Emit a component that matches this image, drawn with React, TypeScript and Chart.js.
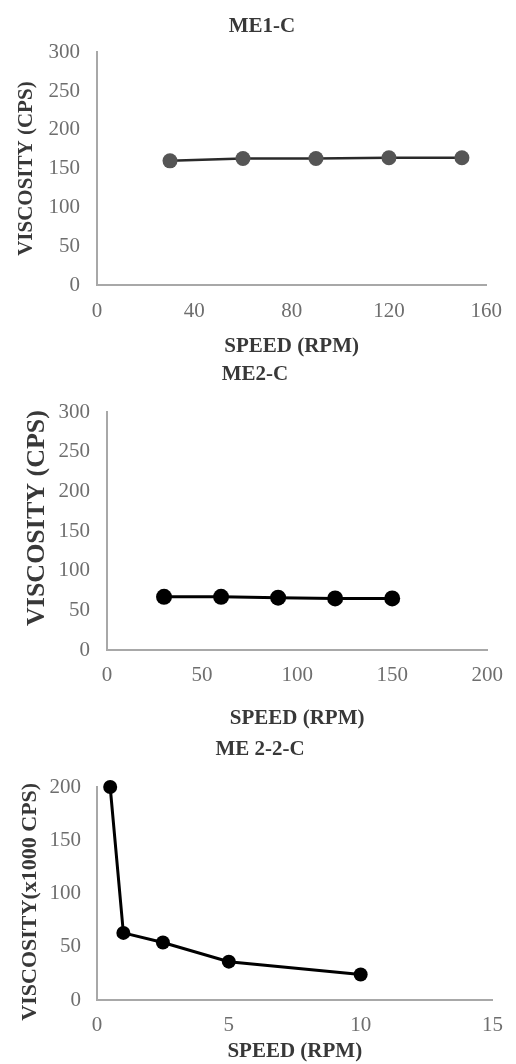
import React, { useEffect, useRef } from "react";
import { Chart, registerables } from "chart.js";

Chart.register(...registerables);

// ---- data ----
const SPEED_1 = [30, 60, 90, 120, 150];
const VISC_1 = [160, 163, 163, 164, 164];

const SPEED_2 = [30, 60, 90, 120, 150];
const VISC_2 = [67, 67, 66, 65, 65];

const SPEED_3 = [0.5, 1, 2.5, 5, 10];
const VISC_3 = [200, 63, 54, 36, 24];

const TITLES = ["ME1-C", "ME2-C", "ME 2-2-C"];
const X_TITLE = "SPEED (RPM)";
const Y_TITLES = ["VISCOSITY (CPS)", "    VISCOSITY (CPS)", "VISCOSITY(x1000 CPS)   "];

const X_RANGES = [
  { min: 0, max: 160, step: 40 },
  { min: 0, max: 200, step: 50 },
  { min: 0, max: 15, step: 5 },
];
const Y_RANGES = [
  { min: 0, max: 300, step: 50 },
  { min: 0, max: 300, step: 50 },
  { min: 0, max: 200, step: 50 },
];

const SERIF = "'Liberation Serif', 'Times New Roman', serif";
const TEXT_DARK = "#383838";
const TICK_COLOR = "#6e6e6e";
const AXIS_COLOR = "#a8a8a8";

type Panel = {
  top: number;
  height: number;
  xs: number[];
  ys: number[];
  title: string;
  yTitle: string;
  xRange: { min: number; max: number; step: number };
  yRange: { min: number; max: number; step: number };
  titlePad: { top: number; bottom: number };
  leftPad: number;
  yWidth: number;
  yTickPad: number;
  yTitleSize: number;
  yTitlePad: number;
  xHeight: number;
  xTickPad: number;
  xTitlePad: number;
  rightPad: number;
  pointColor: string;
  lineColor: string;
  radius: number;
  lineWidth: number;
};

const PANELS: Panel[] = [
  {
    top: 0, height: 362, xs: SPEED_1, ys: VISC_1, title: TITLES[0], yTitle: Y_TITLES[0],
    xRange: X_RANGES[0], yRange: Y_RANGES[0],
    titlePad: { top: 14, bottom: 13 },
    leftPad: 27, yWidth: 70, yTickPad: 17, yTitleSize: 21, yTitlePad: -12.6,
    xHeight: 77, xTickPad: 14, xTitlePad: 2.4, rightPad: 19,
    pointColor: "#555555", lineColor: "#2a2a2a", radius: 7.5, lineWidth: 2.5,
  },
  {
    top: 362, height: 370, xs: SPEED_2, ys: VISC_2, title: TITLES[1], yTitle: Y_TITLES[1],
    xRange: X_RANGES[1], yRange: Y_RANGES[1],
    titlePad: { top: 0.4, bottom: 24.4 },
    leftPad: 13, yWidth: 94, yTickPad: 17, yTitleSize: 26, yTitlePad: 8.4,
    xHeight: 82, xTickPad: 13, xTitlePad: 0.4, rightPad: 19,
    pointColor: "#000000", lineColor: "#000000", radius: 8, lineWidth: 3,
  },
  {
    top: 732, height: 332, xs: SPEED_3, ys: VISC_3, title: TITLES[2], yTitle: Y_TITLES[2],
    xRange: X_RANGES[2], yRange: Y_RANGES[2],
    titlePad: { top: 5.4, bottom: 24.4 },
    leftPad: 20, yWidth: 77, yTickPad: 16, yTitleSize: 22, yTitlePad: -3.2,
    xHeight: 64, xTickPad: 13, xTitlePad: 0, rightPad: 16,
    pointColor: "#000000", lineColor: "#000000", radius: 7, lineWidth: 3,
  },
];

function ChartPanel({ p }: { p: Panel }) {
  const ref = useRef<HTMLCanvasElement | null>(null);

  useEffect(() => {
    if (!ref.current) return;
    const chart = new Chart(ref.current, {
      type: "line",
      data: {
        datasets: [
          {
            data: p.xs.map((x, i) => ({ x, y: p.ys[i] })),
            borderColor: p.lineColor,
            borderWidth: p.lineWidth,
            backgroundColor: p.pointColor,
            pointBackgroundColor: p.pointColor,
            pointBorderColor: p.pointColor,
            pointBorderWidth: 0,
            pointRadius: p.radius,
            tension: 0,
            fill: false,
            clip: false as any,
          },
        ],
      },
      options: {
        animation: false,
        responsive: false,
        events: [],
        layout: { padding: { left: p.leftPad, right: p.rightPad, top: 0, bottom: 0 } },
        plugins: {
          legend: { display: false },
          tooltip: { enabled: false },
          title: {
            display: true,
            text: p.title,
            color: TEXT_DARK,
            font: { family: SERIF, size: 21, weight: "bold", lineHeight: 1.2 },
            padding: p.titlePad,
          },
        },
        scales: {
          x: {
            type: "linear",
            min: p.xRange.min,
            max: p.xRange.max,
            grid: { display: false, drawTicks: false },
            border: { display: true, color: AXIS_COLOR, width: 2 },
            ticks: {
              stepSize: p.xRange.step,
              padding: p.xTickPad,
              color: TICK_COLOR,
              font: { family: SERIF, size: 21, lineHeight: 1.2 },
              maxRotation: 0,
              autoSkip: false,
            },
            title: {
              display: true,
              text: X_TITLE,
              color: TEXT_DARK,
              font: { family: SERIF, size: 21, weight: "bold", lineHeight: 1.2 },
              padding: { top: 0, bottom: p.xTitlePad },
            },
            afterFit: (s: any) => {
              s.height = p.xHeight;
            },
          },
          y: {
            type: "linear",
            min: p.yRange.min,
            max: p.yRange.max,
            grid: { display: false, drawTicks: false },
            border: { display: true, color: AXIS_COLOR, width: 2 },
            ticks: {
              stepSize: p.yRange.step,
              padding: p.yTickPad,
              color: TICK_COLOR,
              font: { family: SERIF, size: 21, lineHeight: 1.2 },
              autoSkip: false,
            },
            title: {
              display: true,
              text: p.yTitle,
              color: TEXT_DARK,
              font: { family: SERIF, size: p.yTitleSize, weight: "bold", lineHeight: 1.2 },
              padding: { top: p.yTitlePad, bottom: 0 },
            },
            afterFit: (s: any) => {
              s.width = p.yWidth;
            },
          },
        },
      } as any,
    });
    return () => chart.destroy();
  }, [p]);

  return (
    <canvas
      ref={ref}
      width={516}
      height={p.height}
      style={{ position: "absolute", left: 0, top: p.top, width: 516, height: p.height }}
    />
  );
}

export default function App() {
  return (
    <div style={{ position: "absolute", left: 0, top: 0, width: 516, height: 1064, background: "#ffffff" }}>
      {PANELS.map((p, i) => (
        <ChartPanel key={i} p={p} />
      ))}
    </div>
  );
}
